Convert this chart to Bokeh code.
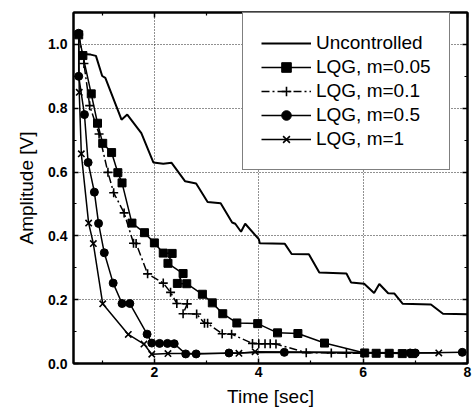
from bokeh.plotting import figure
from bokeh.models import (Range1d, LinearAxis, Legend, LegendItem,
                          FixedTicker, PrintfTickFormatter, CustomJSTickFormatter)
from bokeh.embed import file_html
from bokeh.resources import INLINE

# ---- data ----
unc_t = [0.63, 0.78, 0.88, 1.00, 1.06, 1.37, 1.48, 1.75, 1.98, 2.17, 2.33, 2.59, 2.80,
         3.02, 3.27, 3.49, 3.55, 3.66, 3.74, 4.00, 4.02, 4.50, 4.63, 4.96, 5.16, 5.68,
         5.77, 6.02, 6.21, 6.31, 6.48, 6.60, 6.76, 7.30, 7.53, 8.00]
unc_a = [0.970, 0.968, 0.964, 0.901, 0.895, 0.764, 0.780, 0.722, 0.630, 0.626, 0.629,
         0.571, 0.564, 0.506, 0.502, 0.442, 0.438, 0.413, 0.438, 0.390, 0.377, 0.375,
         0.343, 0.342, 0.285, 0.282, 0.254, 0.250, 0.221, 0.249, 0.220, 0.219, 0.187,
         0.185, 0.156, 0.154]

m005_t = [0.55, 0.63, 0.79, 0.91, 1.01, 1.18, 1.30, 1.38, 1.57, 1.81, 2.00, 2.17, 2.34,
          2.26, 2.55, 2.44, 2.62, 2.92, 3.11, 3.31, 3.58, 3.98, 4.36, 4.75, 5.26, 6.03,
          6.25, 6.50, 6.75, 6.95]
m005_a = [1.030, 0.965, 0.845, 0.753, 0.690, 0.661, 0.598, 0.566, 0.440, 0.410, 0.378,
          0.346, 0.345, 0.314, 0.282, 0.251, 0.250, 0.217, 0.190, 0.156, 0.127, 0.125,
          0.096, 0.094, 0.064, 0.033, 0.032, 0.032, 0.031, 0.031]

m01_t = [0.55, 0.65, 0.76, 0.94, 1.11, 1.22, 1.42, 1.60, 1.65, 1.87, 2.17, 2.31, 2.43,
         2.63, 2.55, 2.81, 2.96, 3.02, 3.30, 3.48, 3.88, 4.00, 4.12, 4.22, 4.33, 4.91,
         5.39, 5.68, 6.00]
m01_a = [1.030, 0.940, 0.808, 0.719, 0.599, 0.535, 0.472, 0.377, 0.376, 0.281, 0.252,
         0.223, 0.188, 0.187, 0.156, 0.155, 0.126, 0.126, 0.093, 0.092, 0.063, 0.062,
         0.062, 0.062, 0.061, 0.034, 0.033, 0.032, 0.032]

m05_t = [0.55, 0.55, 0.66, 0.73, 0.85, 0.93, 1.04, 1.21, 1.38, 1.53, 1.86, 1.95, 2.10,
         2.25, 2.38, 2.60, 2.80, 3.43, 4.49, 6.90, 7.00, 7.90]
m05_a = [1.035, 0.900, 0.780, 0.630, 0.537, 0.439, 0.347, 0.252, 0.188, 0.188, 0.092,
         0.064, 0.063, 0.063, 0.062, 0.030, 0.030, 0.033, 0.035, 0.033, 0.033, 0.035]

m1_t = [0.55, 0.56, 0.60, 0.74, 0.83, 1.01, 1.50, 1.80, 1.95, 2.26, 3.62, 3.93, 7.45]
m1_a = [1.030, 0.850, 0.657, 0.440, 0.376, 0.187, 0.091, 0.061, 0.029, 0.031, 0.032,
        0.037, 0.033]

x_ticks = [2, 4, 6, 8]
x_minor = [1, 3, 5, 7]
y_ticks = [0.0, 0.2, 0.4, 0.6, 0.8, 1.0]
y_minor = [0.1, 0.3, 0.5, 0.7, 0.9]

labels = ["Uncontrolled", "LQG, m=0.05", "LQG, m=0.1", "LQG, m=0.5", "LQG, m=1"]

FONT = "Liberation Sans"

p = figure(width=473, height=411, output_backend="svg", toolbar_location=None,
           x_range=Range1d(0.45, 8.0), y_range=Range1d(0.0, 1.1),
           min_border_left=73, min_border_right=6, min_border_top=12,
           min_border_bottom=48)
p.background_fill_color = "white"
p.border_fill_color = "white"
p.outline_line_color = "black"
p.outline_line_width = 2

def style_axis(ax):
    ax.major_tick_in = 5
    ax.major_tick_out = 0
    ax.minor_tick_in = 3
    ax.minor_tick_out = 0
    ax.axis_line_width = 2
    ax.axis_line_color = "black"
    ax.major_tick_line_width = 1.5
    ax.minor_tick_line_width = 1.2
    ax.major_label_text_font = FONT
    ax.major_label_text_font_style = "bold"
    ax.major_label_text_font_size = "14px"
    ax.major_label_text_color = "black"

xax = p.xaxis[0]
yax = p.yaxis[0]
xax.ticker = FixedTicker(ticks=x_ticks, minor_ticks=x_minor)
yax.ticker = FixedTicker(ticks=y_ticks, minor_ticks=y_minor)
xax.formatter = PrintfTickFormatter(format="%d")
yax.formatter = PrintfTickFormatter(format="%.1f")
style_axis(xax)
style_axis(yax)
xax.major_label_standoff = 3
yax.major_label_standoff = 6
for ax, title in ((xax, "Time [sec]"), (yax, "Amplitude [V]")):
    ax.axis_label = title
    ax.axis_label_text_font = FONT
    ax.axis_label_text_font_style = "normal"
    ax.axis_label_text_font_size = "19px"
    ax.axis_label_text_color = "black"
xax.axis_label_standoff = 6
yax.axis_label_standoff = 8

blank = CustomJSTickFormatter(code="return ''")
top = LinearAxis(ticker=FixedTicker(ticks=x_ticks, minor_ticks=x_minor), formatter=blank)
right = LinearAxis(ticker=FixedTicker(ticks=y_ticks, minor_ticks=y_minor), formatter=blank)
for ax in (top, right):
    style_axis(ax)
    ax.major_label_standoff = 0
p.add_layout(top, "above")
p.add_layout(right, "right")

p.xgrid.ticker = FixedTicker(ticks=[2, 4, 6])
p.grid.grid_line_color = "#222222"
p.grid.grid_line_dash = "1 2"
p.grid.grid_line_width = 1

r_unc = p.line(unc_t, unc_a, line_color="black", line_width=2)

l1 = p.line(m005_t, m005_a, line_color="black", line_width=1.5)
s1 = p.scatter(m005_t, m005_a, marker="square", size=8, color="black")

l2 = p.line(m01_t, m01_a, line_color="black", line_width=1.5, line_dash="8 3 2 3")
s2 = p.scatter(m01_t, m01_a, marker="cross", size=9, line_color="black", line_width=1.6)

l3 = p.line(m05_t, m05_a, line_color="black", line_width=1.5)
s3 = p.scatter(m05_t, m05_a, marker="circle", size=8, color="black")

l4 = p.line(m1_t, m1_a, line_color="black", line_width=1.5)
s4 = p.scatter(m1_t, m1_a, marker="x", size=9, line_color="black", line_width=1.6)

items = [LegendItem(label=labels[0], renderers=[r_unc]),
         LegendItem(label=labels[1], renderers=[l1, s1]),
         LegendItem(label=labels[2], renderers=[l2, s2]),
         LegendItem(label=labels[3], renderers=[l3, s3]),
         LegendItem(label=labels[4], renderers=[l4, s4])]
legend = Legend(items=items, location=(169, 193), padding=18, spacing=0, margin=0,
                label_height=24, glyph_height=24, glyph_width=50, label_standoff=5,
                label_width=114, label_text_font=FONT, label_text_font_size="19px",
                label_text_color="black", border_line_color="black",
                border_line_width=1.5, background_fill_color="white",
                background_fill_alpha=1.0)
p.add_layout(legend)

open("out.html", "w").write(file_html(p, INLINE))
